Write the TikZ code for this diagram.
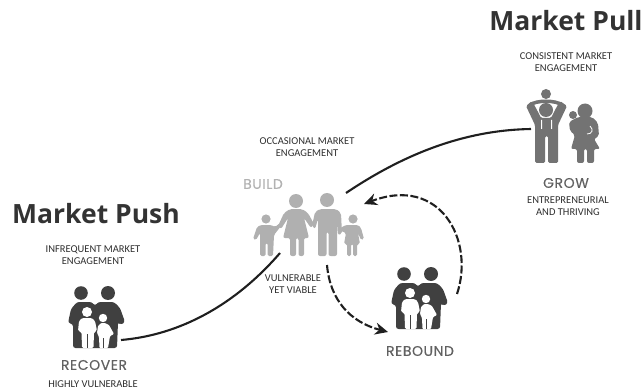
\documentclass[tikz,border=0pt]{standalone}
\usepackage{fontspec}
\setmainfont{Carlito}
\newfontfamily\headfont{Open Sans}
\newfontfamily\stagefont[LetterSpace=4,FakeBold=0.3]{Poppins}
\usetikzlibrary{arrows.meta}
\definecolor{inkdark}{gray}{0.25}
\definecolor{inkgrow}{gray}{0.45}
\definecolor{inkbuild}{gray}{0.69}
\tikzset{
  every node/.style={inner sep=0pt,text=black!82},
  market/.style={font=\headfont\bfseries\fontsize{26.5}{28}\selectfont,text=black!80},
  note/.style={font=\fontsize{10.5}{12}\selectfont,align=center},
  stage/.style={font=\stagefont\fontsize{14}{15}\selectfont,text=black!62},
  flow/.style={draw=black!88,line width=2.1pt},
  back/.style={flow,dash pattern=on 8pt off 2.5pt,-{Stealth[length=13pt,width=12pt]}},
  family/.pic={
    \fill[inkdark] (81,293) circle (6.8) (108,293) circle (7);
    \fill[inkdark,rounded corners=2.5pt] (68,323) -- (71,309) -- (77,302) -- (92,302) -- (95,306)
      -- (98,302) -- (114,302) -- (120,308) -- (125,322) -- (121,325) -- (118,322) -- (117,348) -- (73,348) -- (73,324) -- cycle;
    \fill[white] (87,312) circle (5) (103,318) circle (4.2);
    \fill[white,rounded corners=1.5pt] (78,331) -- (79,321) -- (82,318) -- (92,318) -- (95,321) -- (97,331) -- (94,332)
      -- (93.5,348) -- (82,348) -- (81.5,332) -- cycle;
    \fill[white,rounded corners=1pt] (97,333) -- (98,326) -- (101,323) -- (105,323) -- (109,325) -- (114,334) -- (110,336)
      -- (108,348) -- (99.5,348) -- (99,337) -- cycle;
    \draw[inkdark,line width=0.7pt] (87.7,334) -- (87.7,348) (103.7,338) -- (103.7,348);
  }
}

\begin{document}
\begin{tikzpicture}[x=1pt,y=-1pt]
  \useasboundingbox (0,0) rectangle (642,390);

  \node[market] (pushtitle) at (96,214) {Market Push};
  \node[market] (pulltitle) at (566,21) {Market Pull};

  \foreach \pos/\name/\txt in {(93,255)/recovertop/{INFREQUENT MARKET\\ENGAGEMENT},
                               (93,384)/recoverlow/{HIGHLY VULNERABLE},
                               (307,147)/buildtop/{OCCASIONAL MARKET\\ENGAGEMENT},
                               (293,284)/buildlow/{VULNERABLE\\YET VIABLE},
                               (566,62)/growtop/{CONSISTENT MARKET\\ENGAGEMENT},
                               (568,206)/growlow/{ENTREPRENEURIAL\\AND THRIVING}}
    \node[note] (\name) at \pos {\txt};

  \foreach \pos/\name/\txt in {(94,365)/recover/RECOVER, (420,351)/rebound/REBOUND, (566,183)/grow/GROW}
    \node[stage] (\name) at \pos {\txt};
  \node[stage,text=black!30] (build) at (263,184) {BUILD};

  % recover and rebound
  \pic at (0,0) {family};
  \pic at (323,-19) {family};

  % build
  \begin{scope}[inkbuild]
    \fill (296,201) circle (7) (327,200) circle (7) (266,219) circle (4.6) (353,219) circle (4.6);
    \fill[rounded corners=2pt] (278,226) -- (284,213) -- (290,209) -- (302,209) -- (308,213) -- (314,224) -- (311,228)
      -- (304,218) -- (309,238) -- (304,238) -- (304,256) -- (298.5,256) -- (298.5,238) -- (296,238) -- (296,256) -- (290,256)
      -- (290,238) -- (283,238) -- (288,218) -- (281,229) -- cycle;
    \fill[rounded corners=2pt] (312,226) -- (315,212) -- (320,209) -- (336,209) -- (341,213) -- (342,234) -- (338,235)
      -- (337,219) -- (337,256) -- (328.5,256) -- (328.5,232) -- (326.5,232) -- (326.5,256) -- (318,256) -- (318,219) -- (315,229) -- cycle;
    \fill[rounded corners=1.5pt] (253,239) -- (257,227) -- (261,225) -- (271,225) -- (275,227) -- (280,223) -- (281,226) -- (274,235)
      -- (273,256) -- (267.5,256) -- (267.5,243) -- (265.5,243) -- (265.5,256) -- (260,256) -- (260,233) -- (256,240) -- cycle;
    \fill[rounded corners=1.5pt] (340,228) -- (346,225) -- (358,225) -- (361,228) -- (364,239) -- (361,240) -- (358,233)
      -- (360,244) -- (357,244) -- (357,256) -- (353,256) -- (353,244) -- (351,244) -- (351,256) -- (347,256) -- (347,244)
      -- (344,244) -- (346,233) -- (341,231) -- cycle;
  \end{scope}

  % grow
  \begin{scope}[inkgrow]
    \fill (546,94) circle (5) (546,110) circle (7) (585,111) circle (7.5) (573,115) circle (4);
    \draw[line width=3.5pt] (530,105) .. controls (536,100) and (556,100) .. (562,105);
    \fill[rounded corners=1.5pt] (526,106) -- (532,101) -- (537,110) -- (541,118) -- (551,118) -- (555,110) -- (560,101) -- (567,106)
      -- (558,125) -- (558,163) -- (548,163) -- (548,136) -- (545,136) -- (545,163) -- (535,163) -- (535,125) -- cycle;
    \fill[white] (541,120) rectangle (542,129) (551,120) rectangle (552,129);
    \fill[rounded corners=2pt] (569,122) -- (578,117) -- (592,117) -- (598,123) -- (599,136) -- (594,139) -- (600,149)
      -- (594,149) -- (594,163) -- (587,163) -- (587,149) -- (584,149) -- (584,163) -- (577,163) -- (577,149) -- (571,149)
      -- (575,135) -- (570,131) -- cycle;
    \draw[white,line width=0.8pt] (590,126) .. controls (594,130) and (592,134) .. (587,134);
  \end{scope}

  \coordinate (pushstart) at (121,340);
  \coordinate (pushend) at (280,253);
  \coordinate (pullstart) at (346,193);
  \coordinate (pullend) at (531,129);
  \coordinate (fallstart) at (327,265);
  \coordinate (fallend) at (388,332);
  \coordinate (climbstart) at (457,294);
  \coordinate (climbend) at (364,204);

  \draw[flow] (pushstart) .. controls (180,335) and (235,305) .. (pushend);
  \draw[flow] (pullstart) .. controls (410,150) and (470,130) .. (pullend);
  \draw[back] (fallstart) .. controls (330,300) and (350,322) .. (fallend);
  \draw[back] (climbstart) .. controls (475,240) and (440,175) .. (climbend);
\end{tikzpicture}
\end{document}
